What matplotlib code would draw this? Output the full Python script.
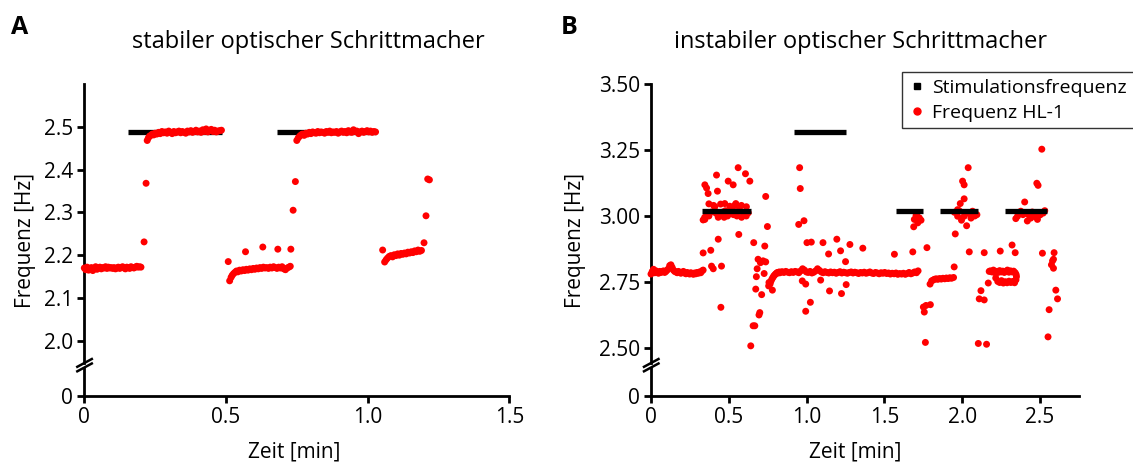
import matplotlib
matplotlib.use("Agg")
import matplotlib.pyplot as plt
from matplotlib.lines import Line2D

plt.rcParams['font.family'] = ['Open Sans', 'DejaVu Sans']

# ---------------- Panel A data ----------------
a_title = "stabiler optischer Schrittmacher"
a_xticks = [0, 0.5, 1.0, 1.5]
a_xticklabels = ["0", "0.5", "1.0", "1.5"]
a_yticks = [2.0, 2.1, 2.2, 2.3, 2.4, 2.5]
a_yticklabels = ["2.0", "2.1", "2.2", "2.3", "2.4", "2.5"]

a_stim_start = [0.153, 0.681]
a_stim_end = [0.485, 1.029]
a_stim_freq = [2.487, 2.487]

a_t1 = [0.000, 0.005, 0.010, 0.015, 0.020, 0.025, 0.030, 0.035, 0.040, 0.045,
        0.050, 0.055, 0.060, 0.065, 0.070, 0.075, 0.080, 0.085, 0.090, 0.095,
        0.100, 0.105, 0.110, 0.115, 0.120, 0.125, 0.130, 0.135, 0.140, 0.145,
        0.150, 0.155, 0.160, 0.165, 0.170, 0.175, 0.180, 0.185, 0.190, 0.195, 0.200]
a_v1 = [2.170, 2.166, 2.172, 2.165, 2.168, 2.171, 2.164, 2.169, 2.173, 2.167,
        2.170, 2.172, 2.168, 2.171, 2.170, 2.173, 2.169, 2.172, 2.170, 2.171,
        2.169, 2.171, 2.168, 2.170, 2.172, 2.169, 2.171, 2.173, 2.170, 2.168,
        2.172, 2.171, 2.169, 2.173, 2.171, 2.170, 2.172, 2.174, 2.172, 2.173, 2.172]

a_t2 = [0.211, 0.218,
        0.222, 0.226, 0.230, 0.235, 0.240, 0.245, 0.250, 0.256, 0.262, 0.268,
        0.274, 0.280, 0.286, 0.292, 0.298, 0.304, 0.310, 0.316, 0.322, 0.328,
        0.334, 0.340, 0.346, 0.352, 0.358, 0.364, 0.370, 0.376, 0.382, 0.388,
        0.394, 0.400, 0.406, 0.412, 0.418, 0.424, 0.430, 0.436, 0.442, 0.448,
        0.454, 0.460, 0.466, 0.472, 0.478, 0.484]
a_v2 = [2.231, 2.368,
        2.468, 2.474, 2.478, 2.480, 2.483, 2.481, 2.485, 2.483, 2.487, 2.484,
        2.489, 2.486, 2.488, 2.485, 2.490, 2.487, 2.484, 2.489, 2.486, 2.488,
        2.490, 2.486, 2.489, 2.487, 2.485, 2.490, 2.488, 2.491, 2.487, 2.489,
        2.492, 2.488, 2.490, 2.487, 2.493, 2.489, 2.495, 2.488, 2.491, 2.494,
        2.489, 2.492, 2.488, 2.490, 2.491, 2.492]

a_t3 = [0.508, 0.513, 0.518, 0.522, 0.527, 0.532, 0.537, 0.542, 0.548, 0.554,
        0.560, 0.566, 0.572, 0.578, 0.584, 0.590, 0.596, 0.602, 0.608, 0.614,
        0.620, 0.626, 0.632, 0.638, 0.644, 0.650, 0.656, 0.662, 0.668, 0.674,
        0.680, 0.686, 0.692, 0.698, 0.704, 0.710, 0.716, 0.722, 0.727,
        0.569, 0.630, 0.683, 0.729, 0.737, 0.745]
a_v3 = [2.185, 2.140, 2.148, 2.153, 2.157, 2.160, 2.163, 2.161, 2.165, 2.163,
        2.166, 2.164, 2.167, 2.165, 2.168, 2.166, 2.169, 2.167, 2.170, 2.168,
        2.171, 2.169, 2.172, 2.170, 2.171, 2.169, 2.172, 2.170, 2.173, 2.171,
        2.169, 2.172, 2.170, 2.173, 2.168, 2.166, 2.170, 2.172, 2.174,
        2.208, 2.219, 2.214, 2.214, 2.305, 2.372]

a_t4 = [0.750, 0.755, 0.760, 0.765, 0.770, 0.776, 0.782, 0.788, 0.794, 0.800,
        0.806, 0.812, 0.818, 0.824, 0.830, 0.836, 0.842, 0.848, 0.854, 0.860,
        0.866, 0.872, 0.878, 0.884, 0.890, 0.896, 0.902, 0.908, 0.914, 0.920,
        0.926, 0.932, 0.938, 0.944, 0.950, 0.956, 0.962, 0.968, 0.974, 0.980,
        0.986, 0.992, 0.998, 1.004, 1.010, 1.016, 1.022, 1.028]
a_v4 = [2.468, 2.474, 2.478, 2.481, 2.483, 2.480, 2.485, 2.483, 2.487, 2.484,
        2.488, 2.486, 2.485, 2.489, 2.486, 2.488, 2.487, 2.485, 2.489, 2.487,
        2.490, 2.486, 2.488, 2.487, 2.489, 2.485, 2.488, 2.490, 2.487, 2.489,
        2.486, 2.491, 2.488, 2.487, 2.493, 2.489, 2.490, 2.484, 2.488, 2.490,
        2.487, 2.489, 2.491, 2.488, 2.490, 2.487, 2.489, 2.488]

a_t5 = [1.053, 1.060, 1.065, 1.070, 1.076, 1.082, 1.088, 1.094, 1.100, 1.106,
        1.112, 1.118, 1.124, 1.130, 1.136, 1.142, 1.148, 1.154, 1.160, 1.166,
        1.172, 1.178, 1.184, 1.190, 1.199, 1.206, 1.212, 1.218]
a_v5 = [2.212, 2.184, 2.189, 2.193, 2.197, 2.199, 2.196, 2.201, 2.199, 2.203,
        2.200, 2.204, 2.202, 2.205, 2.203, 2.207, 2.205, 2.208, 2.206, 2.210,
        2.208, 2.212, 2.209, 2.211, 2.229, 2.292, 2.378, 2.376]

a_t = a_t1 + a_t2 + a_t3 + a_t4 + a_t5
a_v = a_v1 + a_v2 + a_v3 + a_v4 + a_v5

# ---------------- Panel B data ----------------
b_title = "instabiler optischer Schrittmacher"
b_xticks = [0, 0.5, 1.0, 1.5, 2.0, 2.5]
b_xticklabels = ["0", "0.5", "1.0", "1.5", "2.0", "2.5"]
b_yticks = [2.50, 2.75, 3.00, 3.25, 3.50]
b_yticklabels = ["2.50", "2.75", "3.00", "3.25", "3.50"]

b_stim_start = [0.329, 0.919, 1.571, 1.857, 2.276]
b_stim_end = [0.645, 1.254, 1.746, 2.098, 2.547]
b_stim_freq = [3.018, 3.320, 3.018, 3.018, 3.018]

b_t1 = [0.000, 0.008, 0.016, 0.024, 0.032, 0.040, 0.048, 0.056, 0.064, 0.072,
        0.080, 0.088, 0.096, 0.104, 0.112, 0.120, 0.128, 0.136, 0.144, 0.152,
        0.160, 0.168, 0.176, 0.184, 0.192, 0.200, 0.208, 0.216, 0.224, 0.232,
        0.240, 0.248, 0.256, 0.264, 0.272, 0.280, 0.288, 0.296, 0.304, 0.312,
        0.320, 0.328, 0.335]
b_v1 = [2.780, 2.790, 2.798, 2.785, 2.792, 2.788, 2.783, 2.790, 2.786, 2.789,
        2.792, 2.786, 2.790, 2.795, 2.800, 2.812, 2.815, 2.805, 2.795, 2.790,
        2.788, 2.785, 2.790, 2.787, 2.783, 2.786, 2.790, 2.784, 2.781, 2.786,
        2.783, 2.780, 2.785, 2.782, 2.779, 2.784, 2.781, 2.786, 2.783, 2.788,
        2.785, 2.792, 2.795]

b_t2 = [0.335, 0.345, 0.358, 0.372, 0.388, 0.402, 0.418, 0.432, 0.447, 0.462,
        0.478, 0.492, 0.508, 0.522, 0.538, 0.552, 0.568, 0.582, 0.598, 0.612,
        0.625, 0.440, 0.470, 0.530,
        0.335, 0.384, 0.389, 0.400, 0.453, 0.449, 0.432, 0.346, 0.357, 0.367,
        0.421, 0.427, 0.496, 0.528, 0.560, 0.607, 0.635, 0.372, 0.410, 0.474,
        0.506, 0.545, 0.581, 0.613, 0.564, 0.346]
b_v2 = [2.985, 2.995, 3.010, 3.000, 3.015, 3.040, 3.010, 2.995, 3.045, 3.015,
        3.020, 3.000, 3.010, 3.030, 3.040, 3.000, 3.025, 2.995, 3.005, 3.000,
        3.012, 3.002, 2.995, 3.005,
        2.860, 2.870, 2.810, 2.800, 2.810, 2.654, 2.912, 3.118, 3.106, 3.085,
        3.155, 3.094, 3.132, 3.118, 3.183, 3.160, 3.132, 3.046, 3.035, 3.047,
        3.037, 3.047, 3.040, 3.035, 2.930, 2.987]

b_t3 = [0.660, 0.737, 0.748, 0.731, 0.688, 0.703, 0.720, 0.737, 0.682, 0.727,
        0.677, 0.673, 0.711, 0.699, 0.694, 0.656, 0.667, 0.641, 0.758, 0.756,
        0.780, 0.765]
b_v3 = [2.899, 3.074, 2.960, 2.886, 2.836, 2.823, 2.830, 2.826, 2.800, 2.782,
        2.770, 2.723, 2.702, 2.634, 2.625, 2.584, 2.584, 2.508, 2.748, 2.735,
        2.719, 2.742]

b_t4 = [0.770, 0.776, 0.782, 0.788, 0.794, 0.800, 0.806, 0.812, 0.818, 0.824,
        0.830, 0.842, 0.854, 0.866, 0.878, 0.890, 0.902, 0.914, 0.926, 0.938,
        0.950, 0.962, 0.974, 0.986, 0.998, 1.010, 1.022, 1.034, 1.046, 1.058,
        1.070, 1.082, 1.094, 1.106, 1.118, 1.130, 1.142, 1.154, 1.166, 1.178,
        1.190, 1.202, 1.214, 1.226, 1.238, 1.250, 1.262, 1.274, 1.286, 1.298,
        1.310, 1.322, 1.334, 1.346, 1.358, 1.370, 1.382, 1.394, 1.406, 1.418,
        1.430, 1.442, 1.454, 1.466, 1.478, 1.490, 1.502, 1.514, 1.526, 1.538,
        1.550, 1.562, 1.574, 1.586, 1.598, 1.610, 1.622, 1.634, 1.646, 1.658,
        1.670, 1.682, 1.694, 1.706, 1.716]
b_v4 = [2.752, 2.760, 2.766, 2.772, 2.776, 2.780, 2.783, 2.786, 2.784, 2.788,
        2.785, 2.789, 2.786, 2.790, 2.787, 2.785, 2.789, 2.786, 2.790, 2.788,
        2.785, 2.792, 2.800, 2.795, 2.788, 2.786, 2.790, 2.784, 2.787, 2.792,
        2.800, 2.794, 2.788, 2.785, 2.789, 2.786, 2.784, 2.788, 2.785, 2.787,
        2.783, 2.786, 2.789, 2.784, 2.787, 2.785, 2.783, 2.786, 2.788, 2.784,
        2.787, 2.785, 2.782, 2.786, 2.784, 2.787, 2.783, 2.785, 2.788, 2.784,
        2.782, 2.786, 2.784, 2.781, 2.785, 2.783, 2.786, 2.782, 2.784, 2.780,
        2.783, 2.781, 2.784, 2.779, 2.782, 2.780, 2.783, 2.779, 2.782, 2.786,
        2.781, 2.784, 2.788, 2.785, 2.792]

b_t5 = [0.955, 0.959, 0.983, 0.949, 1.002, 1.030, 1.105, 1.141, 1.194, 1.218,
        1.250, 1.278, 0.972, 0.994, 1.090, 1.024, 0.994, 1.147, 1.224, 1.254,
        1.361, 1.564, 1.682, 1.773]
b_v5 = [3.183, 3.104, 2.982, 2.968, 2.899, 2.901, 2.899, 2.856, 2.912, 2.868,
        2.827, 2.892, 2.754, 2.742, 2.757, 2.673, 2.639, 2.716, 2.706, 2.740,
        2.878, 2.855, 2.864, 2.880]

b_t6 = [1.692, 1.724, 1.735, 1.688, 1.714, 1.703, 1.708,
        1.763, 1.756, 1.767, 1.795, 1.750, 1.793, 1.803, 1.812, 1.821,
        1.832, 1.843, 1.854, 1.865, 1.876, 1.887, 1.898, 1.909, 1.920, 1.931,
        1.944, 1.948]
b_v6 = [2.987, 2.993, 2.984, 2.959, 2.974, 3.002, 3.010,
        2.521, 2.636, 2.661, 2.664, 2.655, 2.742, 2.754, 2.757, 2.760,
        2.762, 2.760, 2.763, 2.761, 2.764, 2.762, 2.765, 2.763, 2.766, 2.764,
        2.767, 2.807]

b_t7 = [2.038, 2.002, 2.012, 2.012, 1.987, 1.970, 1.949, 1.970, 1.995, 2.028,
        2.056, 2.094, 2.045, 1.955, 2.045, 2.012, 2.066, 2.080, 1.980, 2.020,
        2.141, 2.244, 2.340,
        2.120, 2.109, 2.141, 2.167, 2.103, 2.156, 2.173]
b_v7 = [3.183, 3.132, 3.118, 3.065, 3.047, 3.024, 3.014, 2.999, 2.984, 2.963,
        2.992, 3.005, 3.011, 2.932, 2.864, 2.999, 3.018, 3.000, 3.020, 3.008,
        2.861, 2.867, 2.861,
        2.717, 2.686, 2.682, 2.746, 2.517, 2.514, 2.790]

b_t8 = [2.180, 2.190, 2.200, 2.210, 2.220, 2.230, 2.240, 2.250, 2.260, 2.270,
        2.280, 2.290, 2.300, 2.310, 2.320, 2.330, 2.340,
        2.215, 2.228, 2.240, 2.252, 2.264, 2.276, 2.288, 2.300, 2.312, 2.324,
        2.336, 2.345, 2.348, 2.346]
b_v8 = [2.792, 2.788, 2.795, 2.785, 2.790, 2.786, 2.793, 2.788, 2.791, 2.786,
        2.790, 2.795, 2.787, 2.792, 2.788, 2.791, 2.785,
        2.765, 2.752, 2.748, 2.755, 2.746, 2.751, 2.747, 2.753, 2.748, 2.752,
        2.747, 2.758, 2.770, 2.778]

b_t9 = [2.511, 2.487, 2.479, 2.401, 2.344, 2.418, 2.461, 2.520, 2.376, 2.440,
        2.483, 2.355, 2.390, 2.410, 2.430, 2.450, 2.470, 2.500, 2.530, 2.320,
        2.515, 2.590, 2.586, 2.573, 2.586, 2.601, 2.612, 2.558, 2.551, 2.580]
b_v9 = [3.253, 3.116, 3.124, 3.053, 2.990, 2.981, 2.999, 3.011, 3.018, 2.992,
        2.987, 2.999, 3.005, 3.010, 3.002, 3.015, 3.008, 3.004, 3.020, 2.890,
        2.859, 2.861, 2.836, 2.815, 2.802, 2.719, 2.686, 2.645, 2.542, 2.830]

b_t = b_t1 + b_t2 + b_t3 + b_t4 + b_t5 + b_t6 + b_t7 + b_t8 + b_t9
b_v = b_v1 + b_v2 + b_v3 + b_v4 + b_v5 + b_v6 + b_v7 + b_v8 + b_v9

# ---------------- Figure ----------------
W, H = 1133, 465
fig = plt.figure(figsize=(W / 100, H / 100), dpi=100)

RED = "#ff0000"
FS = 15


def px(x, y):
    return x / W, 1 - y / H


def make_panel(left, right, ylim, yticks, yticklabels, xlim, xticks, xticklabels,
               t, v, s_start, s_end, s_freq, line_on_top):
    top_px, ub_px, lt_px, bot_px = 84, 363, 368, 396
    upper = fig.add_axes([left / W, 1 - ub_px / H, (right - left) / W, (ub_px - top_px) / H])
    lower = fig.add_axes([left / W, 1 - bot_px / H, (right - left) / W, (bot_px - lt_px) / H])
    for ax in (upper, lower):
        ax.set_xlim(*xlim)
        for sp in ("top", "right"):
            ax.spines[sp].set_visible(False)
        ax.spines["left"].set_linewidth(2)
        ax.spines["bottom"].set_linewidth(2)
        ax.tick_params(direction="out", length=5, width=2, labelsize=FS, pad=3)
        ax.patch.set_alpha(0)
    upper.spines["bottom"].set_visible(False)
    upper.tick_params(axis="x", bottom=False, labelbottom=False)
    upper.set_ylim(*ylim)
    upper.set_yticks(yticks)
    upper.set_yticklabels(yticklabels)
    lower.set_ylim(0, 1)
    lower.set_yticks([0])
    lower.set_yticklabels(["0"])
    lower.set_xticks(xticks)
    lower.set_xticklabels(xticklabels)
    lz = 4 if line_on_top else 2
    for a, b, f in zip(s_start, s_end, s_freq):
        upper.plot([a, b], [f, f], color="black", lw=3.8, solid_capstyle="butt", zorder=lz)
    upper.scatter(t, v, s=25, color=RED, edgecolors="none", zorder=3, clip_on=False)
    # break marks
    for dy in (0, 4.5):
        x0, y0 = px(left - 7, 366.8 + dy)
        x1, y1 = px(left + 7.5, 359.0 + dy)
        fig.add_artist(Line2D([x0, x1], [y0, y1], color="black", lw=1.8))
    return upper, lower


ua, la = make_panel(84.3, 509.3, (1.948, 2.6), a_yticks, a_yticklabels, (0, 1.5),
                    a_xticks, a_xticklabels, a_t, a_v, a_stim_start, a_stim_end,
                    a_stim_freq, False)
ub, lb = make_panel(651, 1079, (2.443, 3.5), b_yticks, b_yticklabels, (0, 2.75),
                    b_xticks, b_xticklabels, b_t, b_v, b_stim_start, b_stim_end,
                    b_stim_freq, True)

# titles & labels
fig.text(*px(308, 42), a_title, ha="center", va="center", fontsize=17)
fig.text(*px(861, 42), b_title, ha="center", va="center", fontsize=17)
fig.text(*px(20, 28), "A", ha="center", va="center", fontsize=18, fontweight="bold")
fig.text(*px(569, 28), "B", ha="center", va="center", fontsize=18, fontweight="bold")
fig.text(*px(26, 240), "Frequenz [Hz]", ha="center", va="center", rotation=90, fontsize=FS)
fig.text(*px(576, 240), "Frequenz [Hz]", ha="center", va="center", rotation=90, fontsize=FS)
fig.text(*px(294, 452), "Zeit [min]", ha="center", va="center", fontsize=FS)
fig.text(*px(855, 452), "Zeit [min]", ha="center", va="center", fontsize=FS)

handles = [Line2D([], [], ls="none", marker="s", color="black", markersize=4),
           Line2D([], [], ls="none", marker="o", color=RED, markersize=5)]
leg = fig.legend(handles, ["Stimulationsfrequenz", "Frequenz HL-1"],
                 loc="upper left", bbox_to_anchor=px(902, 72), fontsize=14,
                 frameon=True, fancybox=False, edgecolor="black", borderaxespad=0,
                 handlelength=0.8, handletextpad=0.4, borderpad=0.35, labelspacing=0.35)
leg.get_frame().set_linewidth(1.0)

fig.savefig("out.png", dpi=100)
